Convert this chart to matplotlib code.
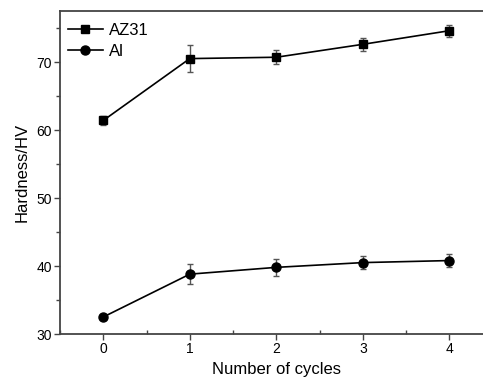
import matplotlib
matplotlib.use("Agg")
import matplotlib.pyplot as plt
from matplotlib.ticker import MultipleLocator

plt.rcParams['font.family'] = ['Liberation Sans', 'DejaVu Sans']

cycles = [0, 1, 2, 3, 4]
az31 = [61.4, 70.5, 70.7, 72.6, 74.6]
az31_err = [0.6, 2.0, 1.0, 1.0, 0.9]
al = [32.5, 38.8, 39.8, 40.5, 40.8]
al_err = [0.3, 1.5, 1.2, 0.95, 1.0]
xtick_labels = ['0', '1', '2', '3', '4']

fig = plt.figure(figsize=(4.83, 3.78), dpi=100)
ax = fig.add_axes([60/483, 44/378, (492.6-60)/483, 323/378])

for vals, errs in ((az31, az31_err), (al, al_err)):
    ax.errorbar(cycles, vals, yerr=errs, fmt='none', ecolor='#555555',
                elinewidth=1.0, capsize=2.5, capthick=1.0, zorder=2)

ax.plot(cycles, az31, color='black', marker='s', markersize=5.5, linewidth=1.2,
        label='AZ31', zorder=3)
ax.plot(cycles, al, color='black', marker='o', markersize=6.5, linewidth=1.2,
        label='Al', zorder=3)

ax.set_xlim(-0.5, 4.5)
ax.set_ylim(30, 77.5)
ax.set_xticks(cycles)
ax.set_xticklabels(xtick_labels)
ax.xaxis.set_minor_locator(MultipleLocator(0.5))
ax.yaxis.set_major_locator(MultipleLocator(10))
ax.yaxis.set_minor_locator(MultipleLocator(5))

for s in ax.spines.values():
    s.set_color('#444444')
    s.set_linewidth(1.3)

ax.tick_params(axis='both', which='major', direction='out', length=4, width=1.0,
               color='#444444', labelsize=10, pad=2)
ax.tick_params(axis='y', which='minor', direction='out', length=3, width=1.0, color='#444444')
ax.tick_params(axis='x', which='minor', direction='in', length=3, width=1.0, color='#444444')

ax.set_xlabel('Number of cycles', fontsize=12, labelpad=4)
ax.set_ylabel('Hardness/HV', fontsize=12, labelpad=5)

leg = ax.legend(loc='upper left', frameon=False, fontsize=12, handlelength=2.05,
                handletextpad=0.36, borderaxespad=0.0, labelspacing=0.4,
                bbox_to_anchor=(0.004, 0.985))

fig.savefig('out.png', dpi=100)
